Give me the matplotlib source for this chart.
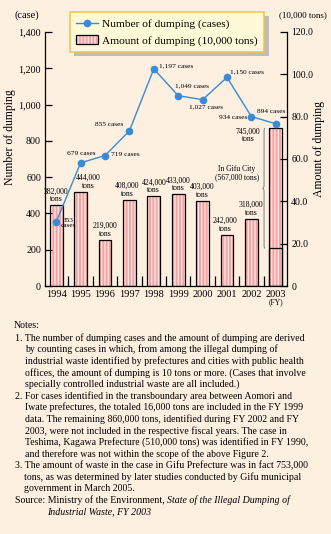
import numpy as np
import matplotlib
matplotlib.use("Agg")
import matplotlib.pyplot as plt
from matplotlib.lines import Line2D
from matplotlib.patches import Patch, PathPatch
from matplotlib.path import Path

plt.rcParams['font.family'] = ['Liberation Serif', 'DejaVu Serif']
plt.rcParams['hatch.linewidth'] = 1.0

# illegal dumping of industrial waste, by fiscal year
years = ['1994', '1995', '1996', '1997', '1998', '1999', '2000', '2001', '2002', '2003']
cases = [353, 679, 719, 855, 1197, 1049, 1027, 1150, 934, 894]
tons = [38.2, 44.4, 21.9, 40.8, 42.4, 43.3, 40.3, 24.2, 31.8, 74.5]  # 10,000 tons
gifu_city = 56.7  # 10,000 tons, the Gifu City case inside FY2003

case_ticks = [0, 200, 400, 600, 800, 1000, 1200, 1400]
case_ticklabels = ['0', '200', '400', '600', '800', '1,000', '1,200', '1,400']
ton_ticks = [0, 20, 40, 60, 80, 100, 120]
ton_ticklabels = ['0', '20.0', '40.0', '60.0', '80.0', '100.0', '120.0']

# where each "cases" label sits relative to its point (points, alignment)
case_label_pos = [(8.9, -0.7, 'center'), (0.7, 6.5, 'center'), (4.0, 0.4, 'left'),
                  (-4.1, 4.7, 'right'), (3.8, 2.0, 'left'), (-2.2, 7.2, 'left'),
                  (-9.6, -5.0, 'left'), (2.4, 3.9, 'left'), (-2.9, -0.5, 'right'),
                  (-3.6, 9.2, 'center')]
ton_label_dx = [0, 5.8, 0, -1.5, 0, 0, 0, -1.2, 0, 0]

bg = '#FDF0E1'
pink = '#F4A3A3'
stripe = '#FDE2DE'
blue = '#3A8AD6'

W, H = 331, 534
fig = plt.figure(figsize=(W / 100, H / 100), dpi=100, facecolor=bg)

ax_t = fig.add_axes([44.5 / W, 1 - 286 / H, 242.5 / W, 254 / H])
ax_t.set_facecolor('none')
ax_c = ax_t.twinx()
ax_t.yaxis.tick_right()
ax_c.yaxis.tick_left()

x = np.arange(len(years))

# bars: striped fill first, then black outline on top
ax_t.bar(x, tons, width=0.52, color=pink, edgecolor=stripe, linewidth=0, hatch='|||||', zorder=1)
ax_t.bar(x, tons, width=0.52, fill=False, edgecolor='black', linewidth=0.9, zorder=2)
# split line for the Gifu City part of FY2003
rest = tons[-1] - gifu_city
ax_t.bar(x[-1], rest, width=0.52, fill=False, edgecolor='black', linewidth=0.9, zorder=2)

for i, v in enumerate(tons[:-1]):
    ax_t.annotate(f"{round(v * 10000):,}\ntons", xy=(i, v), xytext=(ton_label_dx[i], 1.5),
                  textcoords='offset points', ha='center', va='bottom', fontsize=5.5,
                  linespacing=0.95)
ax_t.annotate(f"{round(tons[-1] * 10000):,}\ntons", xy=(x[-1], tons[-1]), xytext=(-20, -5),
              textcoords='offset points', ha='center', va='center', fontsize=5.5,
              linespacing=0.95)

# brace marking the Gifu City portion
xm, xr, xt = x[-1] - 0.48, x[-1] - 0.44, x[-1] - 0.54
y0, y1 = rest, tons[-1]
ymid = (y0 + y1) / 2
h = 1.5
verts = [(xr, y1), (xm, y1), (xm, y1 - h), (xm, ymid + h), (xm, ymid), (xt, ymid),
         (xm, ymid), (xm, ymid - h), (xm, y0 + h), (xm, y0), (xr, y0)]
codes = [Path.MOVETO, Path.CURVE3, Path.CURVE3, Path.LINETO, Path.CURVE3, Path.CURVE3,
         Path.CURVE3, Path.CURVE3, Path.LINETO, Path.CURVE3, Path.CURVE3]
ax_t.add_patch(PathPatch(Path(verts, codes), fill=False, edgecolor='#8C8C8C', linewidth=0.8))
ax_t.annotate(f"In Gifu City\n({round(gifu_city * 10000):,} tons)", xy=(x[-1], ymid),
              xytext=(-27.9, 11.2), textcoords='offset points', ha='center', va='center',
              fontsize=5.5, linespacing=1.0)

# number of cases line
ax_c.plot(x, cases, color=blue, linewidth=1.0, marker='o', markersize=4.5, zorder=5)
for i, c in enumerate(cases):
    dx, dy, ha = case_label_pos[i]
    txt = f"{c:,}\ncases" if i == 0 else f"{c:,} cases"
    ax_c.annotate(txt, xy=(i, c), xytext=(dx, dy), textcoords='offset points',
                  ha=ha, va='center', fontsize=5.3, linespacing=0.95)

ax_t.set_xlim(-0.48, 9.46)
ax_t.set_ylim(0, 120)
ax_c.set_ylim(0, 1400)

ax_t.set_yticks(ton_ticks)
ax_t.set_yticklabels(ton_ticklabels)
ax_c.set_yticks(case_ticks)
ax_c.set_yticklabels(case_ticklabels)
ax_t.tick_params(axis='y', direction='in', length=5, width=0.9, pad=3, labelsize=7)
ax_c.tick_params(axis='y', direction='in', length=5, width=0.9, pad=2.5, labelsize=7.2)

ax_t.set_xticks(x)
ax_t.set_xticklabels(years)
ax_t.set_xticks(x[:-1] + 0.5, minor=True)
ax_t.tick_params(axis='x', which='major', length=0, pad=3, labelsize=7.5)
ax_t.tick_params(axis='x', which='minor', direction='in', length=7, width=0.9)
ax_t.annotate('(FY)', xy=(x[-1], 0), xycoords=('data', 'axes fraction'), xytext=(0, -11.3),
              textcoords='offset points', ha='center', va='center', fontsize=5.5)

for ax in (ax_t, ax_c):
    ax.spines['top'].set_visible(False)
    for s in ('left', 'right', 'bottom'):
        ax.spines[s].set_linewidth(0.9)
for s in ('left', 'right', 'bottom'):
    ax_c.spines[s].set_visible(False)

fig.text(10 / W, 1 - 137 / H, 'Number of dumping', rotation=90, ha='center', va='center', fontsize=8.5)
fig.text(319 / W, 1 - 149 / H, 'Amount of dumping', rotation=90, ha='center', va='center', fontsize=8.5)
fig.text(27 / W, 1 - 15 / H, '(case)', ha='center', va='center', fontsize=7.5)
fig.text(303 / W, 1 - 15 / H, '(10,000 tons)', ha='center', va='center', fontsize=6.5)

handles = [Line2D([], [], color=blue, linewidth=1.0, marker='o', markersize=4.5),
           (Patch(facecolor=pink, edgecolor=stripe, linewidth=0, hatch='|||||'),
            Patch(fill=False, edgecolor='black', linewidth=0.9))]
leg = fig.legend(handles, ['Number of dumping (cases)', 'Amount of dumping (10,000 tons)'],
                 loc='upper left', bbox_to_anchor=(70 / W, 1 - 12.3 / H), borderaxespad=0,
                 fontsize=8.2, frameon=True, fancybox=False, framealpha=1,
                 facecolor='#FFF9D8', edgecolor='#F2C04A', borderpad=0.55, labelspacing=0.5,
                 handlelength=1.9, handleheight=0.85, handletextpad=0.4,
                 shadow={'ox': 3, 'oy': -3, 'facecolor': '#BDBDBD', 'edgecolor': 'none', 'alpha': 1})
leg.get_frame().set_linewidth(1.1)

# notes under the chart
note_lines = [
    (14, "Notes:"),
    (15, "1. The number of dumping cases and the amount of dumping are derived"),
    (25, "by counting cases in which, from among the illegal dumping of"),
    (25, "industrial waste identified by prefectures and cities with public health"),
    (25, "offices, the amount of dumping is 10 tons or more. (Cases that involve"),
    (25, "specially controlled industrial waste are all included.)"),
    (15, "2. For cases identified in the transboundary area between Aomori and"),
    (25, "Iwate prefectures, the totaled 16,000 tons are included in the FY 1999"),
    (25, "data. The remaining 860,000 tons, identified during FY 2002 and FY"),
    (25, "2003, were not included in the respective fiscal years. The case in"),
    (25, "Teshima, Kagawa Prefecture (510,000 tons) was identified in FY 1990,"),
    (25, "and therefore was not within the scope of the above Figure 2."),
    (15, "3. The amount of waste in the case in Gifu Prefecture was in fact 753,000"),
    (24, "tons, as was determined by later studies conducted by Gifu municipal"),
    (24, "government in March 2005."),
]
y = 326
for xpx, line in note_lines:
    fig.text(xpx / W, 1 - y / H, line, ha='left', va='center', fontsize=7.1)
    y += 11.6 if line != "Notes:" else 12.0
src = fig.text(15 / W, 1 - y / H, "Source: Ministry of the Environment, ", ha='left', va='center', fontsize=7.1)
fig.canvas.draw()
bb = src.get_window_extent()
fig.text(bb.x1 / W, 1 - y / H, "State of the Illegal Dumping of", ha='left', va='center',
         fontsize=7.1, style='italic')
y += 11.6
fig.text(46.7 / W, 1 - y / H, "Industrial Waste, FY 2003", ha='left', va='center',
         fontsize=7.1, style='italic')

fig.savefig('out.png', dpi=100, facecolor=bg)
